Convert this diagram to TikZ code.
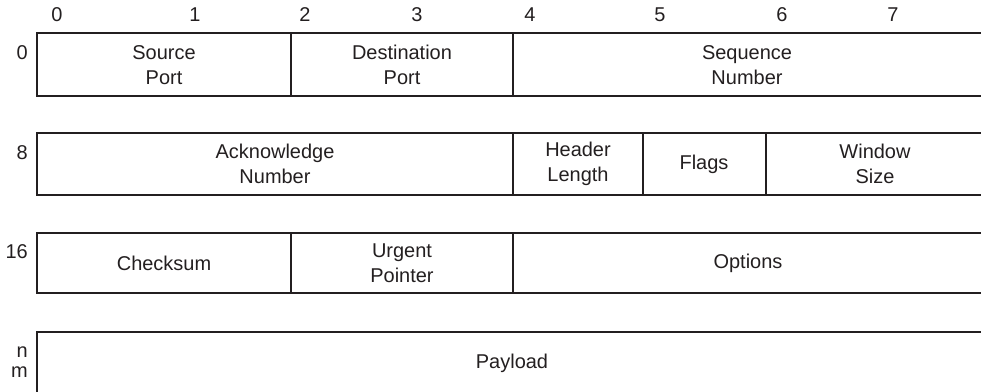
\documentclass[tikz,border=0pt]{standalone}
\usepackage{fontspec}
\setmainfont{Liberation Sans}
\definecolor{ink}{HTML}{231F20}
\tikzset{
	field/.style={align=center,text=ink,font=\fontsize{14.2}{17.6}\selectfont,inner sep=0pt},
	offset/.style={text=ink,font=\fontsize{14.2}{17.6}\selectfont,inner sep=0pt},
	rule/.style={draw=ink,line width=2.1pt,line join=miter}
}
\begin{document}
\begin{tikzpicture}[x=0.025cm,y=-0.025cm]
				\useasboundingbox (0,0) rectangle (981,392);
				% byte offsets along the top
				\foreach \x/\b in {57/0,195/1,305/2,417/3,530/4,660/5,782/6,893/7}{
					\node[offset] (b\b) at (\x,15) {\b};
				}
				% row offsets
				\node[offset,anchor=east] (r0) at (28,53) {0};
				\node[offset,anchor=east] (r8) at (28,153) {8};
				\node[offset,anchor=east] (r16) at (28,252) {16};
				\node[offset,anchor=east] (rn) at (28,352) {n};
				\node[offset,anchor=east] (rm) at (28,372) {m};
				% row 0
				\draw[rule] (981,33)--(37,33)--(37,96)--(981,96);
				\draw[rule] (291,33)--(291,96);
				\draw[rule] (513,33)--(513,96);
				\node[field] (src) at (164,65) {Source\\Port};
				\node[field] (dst) at (402,65) {Destination\\Port};
				\node[field] (seq) at (747,65) {Sequence\\Number};
				% row 8
				\draw[rule] (981,133)--(37,133)--(37,195)--(981,195);
				\foreach \x in {513,643,766}{
					\draw[rule] (\x,133)--(\x,195);
				}
				\node[field] (ack) at (275,164) {Acknowledge\\Number};
				\node[field] (hlen) at (578,164) {Header\\Length};
				\node[field] (flags) at (704,164) {Flags};
				\node[field] (win) at (875,164) {Window\\Size};
				% row 16
				\draw[rule] (981,233)--(37,233)--(37,293)--(981,293);
				\draw[rule] (291,233)--(291,293);
				\draw[rule] (513,233)--(513,293);
				\node[field] (csum) at (164,263) {Checksum};
				\node[field] (urg) at (402,263) {Urgent\\Pointer};
				\node[field] (opt) at (748,263) {Options};
				% payload, open at the bottom
				\draw[rule] (981,332)--(37,332)--(37,392);
				\node[field] (pay) at (512,363) {Payload};
			\end{tikzpicture}
\end{document}
